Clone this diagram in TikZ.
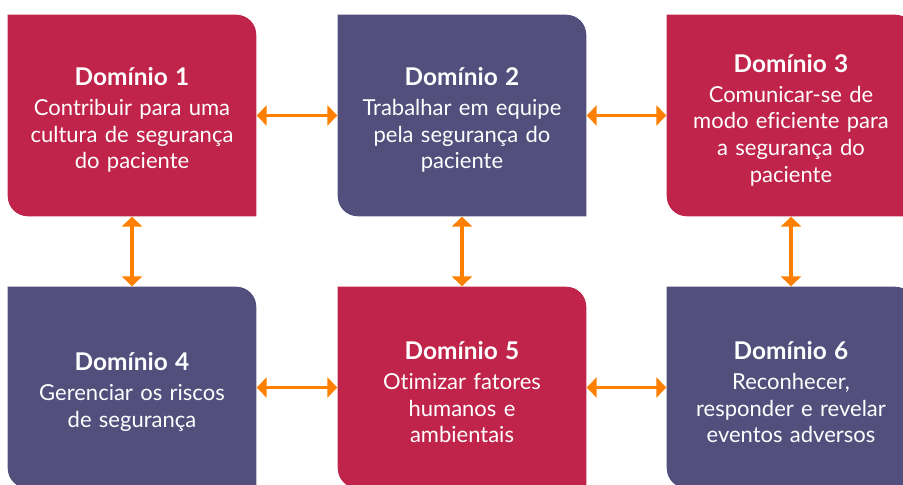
\documentclass[tikz,border=0pt]{standalone}
\usepackage{fontspec}
\setmainfont{Lato}[Ligatures=NoCommon]
\usetikzlibrary{arrows.meta}
\definecolor{dred}{RGB}{192,36,74}
\definecolor{dpurple}{RGB}{82,79,125}
\definecolor{dorange}{RGB}{255,128,0}
\newcommand{\domfill}[2]{%
  \fill[#2] (#1.north west) -- ([xshift=-15pt]#1.north east) arc[start angle=90,end angle=0,radius=15pt]
    -- (#1.south east) -- ([xshift=15pt]#1.south west) arc[start angle=270,end angle=180,radius=15pt] -- cycle;}
\newcommand{\domtitle}[1]{{\bfseries\fontsize{18.3}{20}\selectfont #1}\\[2.5pt]}
\begin{document}
\begin{tikzpicture}[x=0.75pt,y=0.75pt,
  dombox/.style={minimum width=186pt,minimum height=150.75pt,inner sep=0pt,text width=184pt,align=center,text=white,font=\fontsize{16.5}{20}\selectfont},
  link/.style={draw=dorange,line width=2.5pt,{Triangle[width=15pt,length=7.5pt]}-{Triangle[width=15pt,length=7.5pt]},shorten <=0.3pt,shorten >=0.3pt}]
\useasboundingbox (0,0) rectangle (903,485);
\node[dombox] (b1) at (132,369.5) {};
\node[dombox] (b2) at (462,369.5) {};
\node[dombox] (b3) at (791,369.5) {};
\node[dombox] (b4) at (132,97.5) {};
\node[dombox] (b5) at (462,97.5) {};
\node[dombox] (b6) at (791,97.5) {};
\domfill{b1}{dred}
\domfill{b2}{dpurple}
\domfill{b3}{dred}
\domfill{b4}{dpurple}
\domfill{b5}{dred}
\domfill{b6}{dpurple}
\node[dombox,yshift=-3.5] (t1) at (b1) {\domtitle{Domínio 1}Contribuir para uma\\cultura de segurança\\do paciente};
\node[dombox,yshift=-3.5] (t2) at (b2) {\domtitle{Domínio 2}Trabalhar em equipe\\pela segurança do\\paciente};
\node[dombox,yshift=-3.5] (t3) at (b3) {\domtitle{Domínio 3}Comunicar-se de\\modo eficiente para\\a segurança do\\paciente};
\node[dombox,yshift=-3.5] (t4) at (b4) {\domtitle{Domínio 4}Gerenciar os riscos\\de segurança};
\node[dombox,yshift=-3.5] (t5) at (b5) {\domtitle{Domínio 5}Otimizar fatores\\humanos e\\ambientais};
\node[dombox,yshift=-3.5] (t6) at (b6) {\domtitle{Domínio 6}Reconhecer,\\responder e revelar\\eventos adversos};
\draw[link] (b1.east) -- (b2.west);
\draw[link] (b2.east) -- (b3.west);
\draw[link] (b4.east) -- (b5.west);
\draw[link] (b5.east) -- (b6.west);
\draw[link] (b1.south) -- (b4.north);
\draw[link] (b2.south) -- (b5.north);
\draw[link] (b3.south) -- (b6.north);
\end{tikzpicture}
\end{document}
